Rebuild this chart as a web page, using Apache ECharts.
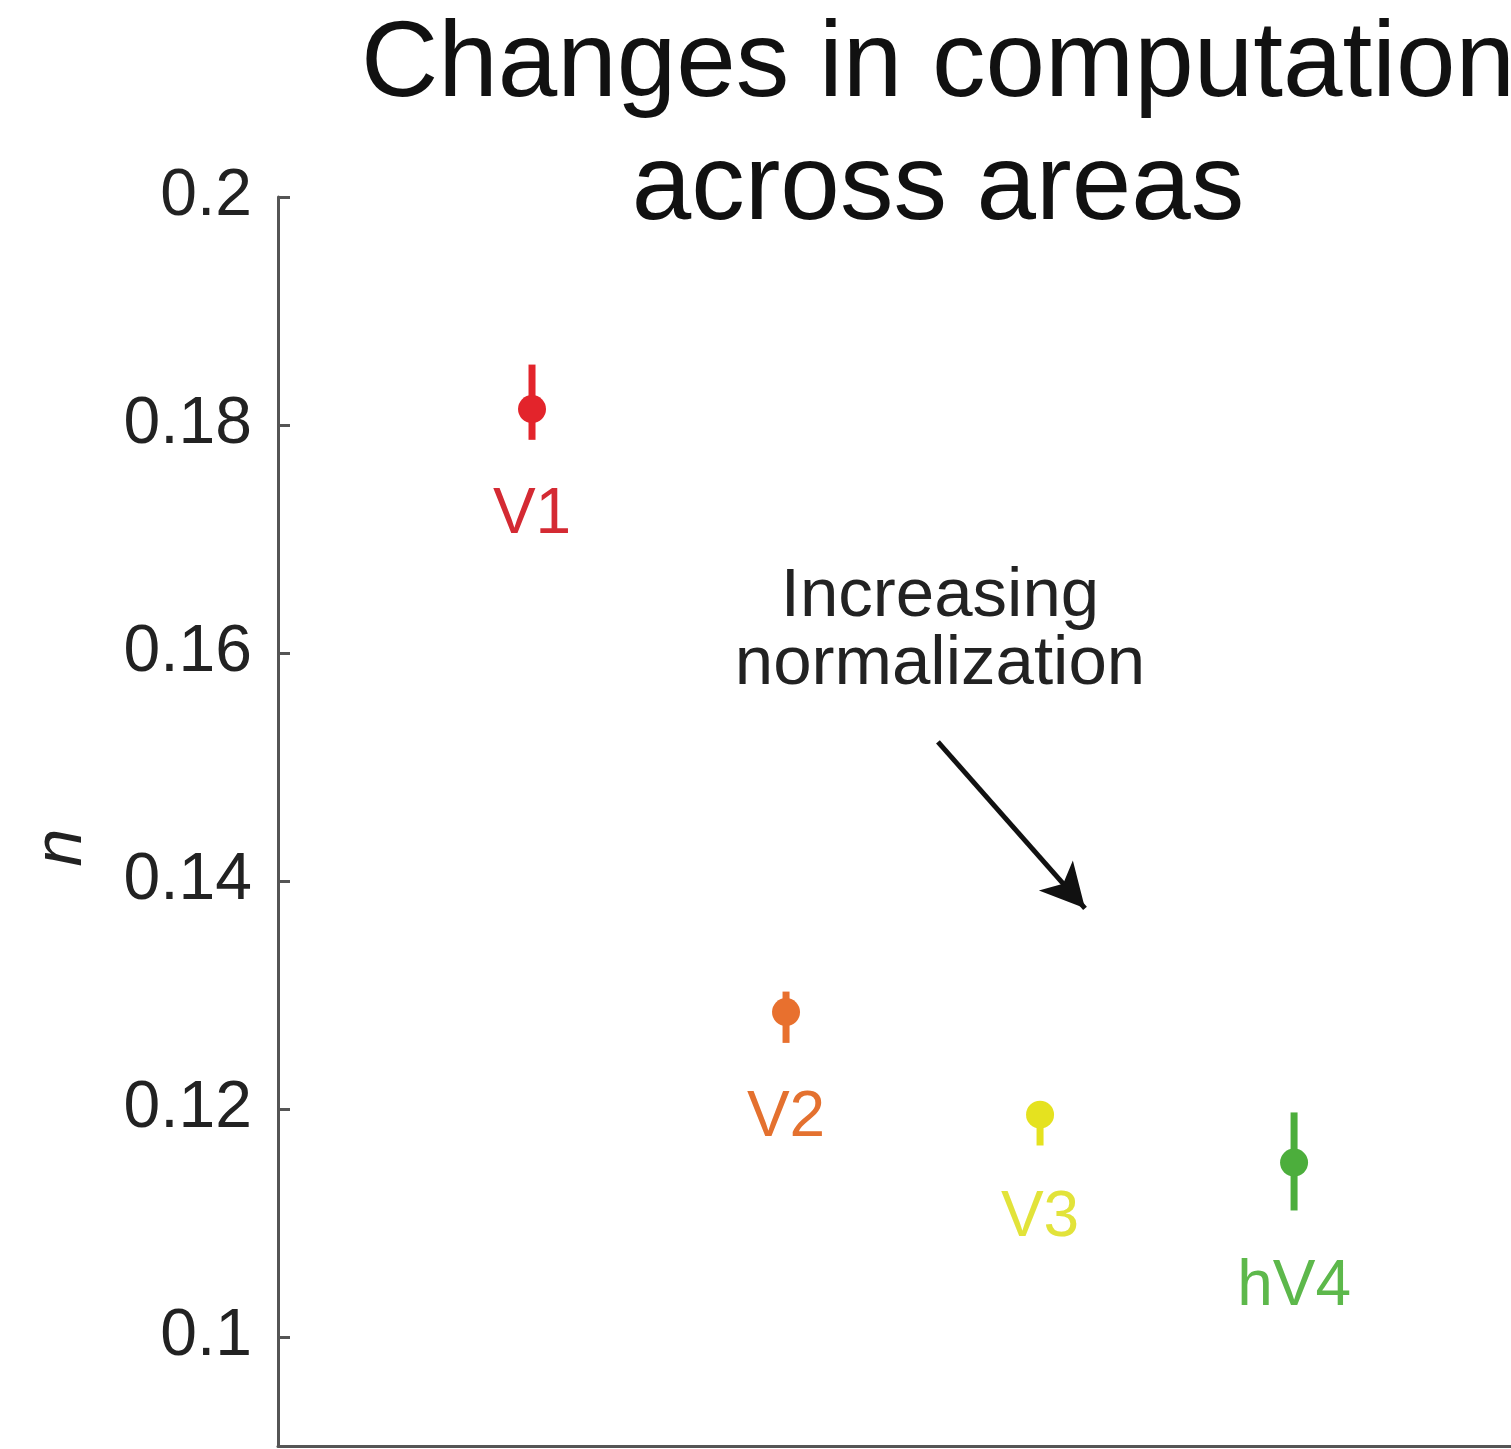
<!DOCTYPE html>
<html>
<head>
<meta charset="utf-8">
<script src="https://cdn.jsdelivr.net/npm/echarts@6/dist/echarts.min.js"></script>
<style>
  html, body { margin: 0; padding: 0; background: #fff; }
  #chart { width: 1511px; height: 1449px; }
</style>
</head>
<body>
<div id="chart"></div>
<script>
// areas along the visual hierarchy
var areas = ['V1', 'V2', 'V3', 'hV4'];
var xPos = [1, 2, 3, 4];
// exponent n (mean and error bar ends)
var nMean = [0.1814, 0.1285, 0.1195, 0.1153];
var nLow  = [0.1787, 0.1258, 0.1168, 0.1111];
var nHigh = [0.1853, 0.1303, 0.1205, 0.1197];
var yTicks = [0.1, 0.12, 0.14, 0.16, 0.18, 0.2];

// annotation (data coords)
var noteText = 'Increasing\nnormalization';
var notePos = [2.606, 0.1619];
var arrowFrom = [2.598, 0.1522];
var arrowTo = [3.177, 0.1376];

var dotColors = ['#e3242b', '#e8702e', '#e5e21f', '#4cae3c'];
var textColors = ['#d42a33', '#e4712f', '#e2e33a', '#5db84b'];
var labelOffsets = [106, 106, 104, 125];

var FONT = '"Liberation Sans", Arial, Helvetica, sans-serif';

var pts = [], bars = [];
for (var i = 0; i < areas.length; i++) {
  pts.push({
    value: [xPos[i], nMean[i]],
    itemStyle: { color: dotColors[i], opacity: 1 },
    label: { color: textColors[i], offset: [0, labelOffsets[i]] }
  });
  bars.push([xPos[i], nLow[i], nHigh[i]]);
}

var myChart = echarts.init(document.getElementById('chart'));
myChart.setOption({
  backgroundColor: '#fff',
  animation: false,
  title: {
    text: 'Changes in computation\nacross areas',
    left: 933,
    top: 0,
    textAlign: 'center',
    textStyle: { fontFamily: FONT, fontSize: 107, fontWeight: 'normal', color: '#111', lineHeight: 123 }
  },
  grid: { left: 278, top: 197, right: 0, bottom: 3 },
  xAxis: {
    type: 'value', min: 0, max: 4.854,
    axisLine: { show: true, onZero: false, lineStyle: { color: '#555', width: 3 } },
    axisTick: { show: false }, axisLabel: { show: false }, splitLine: { show: false }
  },
  yAxis: {
    type: 'value', min: 0.09044, max: 0.2,
    name: 'n', nameLocation: 'middle', nameGap: 182, nameRotate: 90,
    nameTextStyle: { fontFamily: FONT, fontSize: 68, fontStyle: 'italic', color: '#222', padding: [0, 52, 0, 0] },
    axisLine: { show: true, lineStyle: { color: '#555', width: 3 } },
    axisTick: { show: true, inside: true, length: 12, customValues: yTicks, lineStyle: { color: '#555', width: 3 } },
    axisLabel: {
      customValues: yTicks, margin: 26, fontFamily: FONT, fontSize: 66, color: '#222',
      formatter: function (v) { return String(+v.toFixed(2)); }
    },
    splitLine: { show: false }
  },
  series: [
    {
      type: 'custom',
      data: bars,
      renderItem: function (params, api) {
        var lo = api.coord([api.value(0), api.value(1)]);
        var hi = api.coord([api.value(0), api.value(2)]);
        return {
          type: 'line',
          shape: { x1: lo[0], y1: lo[1], x2: hi[0], y2: hi[1] },
          style: { stroke: dotColors[params.dataIndex], lineWidth: 7 }
        };
      },
      z: 2
    },
    {
      type: 'scatter',
      symbol: 'circle',
      symbolSize: 28,
      data: pts,
      label: {
        show: true, position: 'inside',
        fontFamily: FONT, fontSize: 64,
        formatter: function (p) { return areas[p.dataIndex]; }
      },
      z: 3,
      markLine: {
        silent: true,
        symbol: ['none', 'arrow'],
        symbolSize: [34, 44],
        lineStyle: { color: '#111', width: 5, type: 'solid' },
        label: { show: false },
        data: [[{ coord: arrowFrom }, { coord: arrowTo }]]
      },
      markPoint: {
        silent: true,
        symbolSize: 0,
        label: {
          show: true, position: 'inside', formatter: noteText,
          fontFamily: FONT, fontSize: 69, lineHeight: 68, color: '#222'
        },
        data: [{ coord: notePos }]
      }
    }
  ]
});
</script>
</body>
</html>
